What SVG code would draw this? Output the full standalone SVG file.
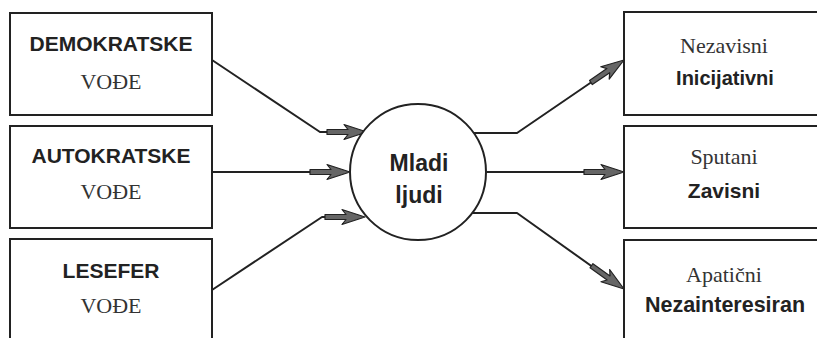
<svg xmlns="http://www.w3.org/2000/svg" xmlns:xlink="http://www.w3.org/1999/xlink" width="817" height="338" viewBox="0 0 817 338">
  <style>
    .box { fill: #fff; stroke: #222; stroke-width: 2; }
    .line { fill: none; stroke: #222; stroke-width: 2; stroke-linejoin: round; }
    .bold { font-family: "Liberation Sans", Arial, sans-serif; font-weight: bold; fill: #222; text-anchor: middle; }
    .serif { font-family: "Liberation Serif", "Times New Roman", serif; fill: #333; text-anchor: middle; }
    .arw { fill: #666; stroke: #222; stroke-width: 1.2; stroke-linejoin: round; }
  </style>
  <defs>
    <!-- arrowhead pointing right, tip at the origin -->
    <path id="arrow" class="arw" d="M0,0 L-23,-7.5 L-19,-2.5 L-40,-2.5 L-40,2.5 L-19,2.5 L-23,7.5 Z"/>
  </defs>
  <rect width="817" height="338" fill="#fff"/>

  <!-- connectors -->
  <g id="connectors">
    <polyline class="line" points="212,60 320,132 360,132"/>
    <polyline class="line" points="212,172 345,172"/>
    <polyline class="line" points="212,290 322,217 360,217"/>
    <polyline class="line" points="470,133 517,133 618,64"/>
    <polyline class="line" points="487,172 618,172"/>
    <polyline class="line" points="470,213 517,213 618,285"/>
    <use xlink:href="#arrow" transform="translate(367,132)"/>
    <use xlink:href="#arrow" transform="translate(350,172)"/>
    <use xlink:href="#arrow" transform="translate(365,217)"/>
    <use xlink:href="#arrow" transform="translate(624,60) rotate(-34.2)"/>
    <use xlink:href="#arrow" transform="translate(624,172)"/>
    <use xlink:href="#arrow" transform="translate(624,289) rotate(35.6)"/>
  </g>

  <!-- leader types -->
  <g id="demokratske">
    <rect class="box" x="10" y="13" width="202" height="102"/>
    <text class="bold" x="111" y="51" font-size="21">DEMOKRATSKE</text>
    <text class="serif" x="111" y="89" font-size="22">VOĐE</text>
  </g>
  <g id="autokratske">
    <rect class="box" x="10" y="126" width="202" height="102"/>
    <text class="bold" x="111" y="163" font-size="21">AUTOKRATSKE</text>
    <text class="serif" x="111" y="199" font-size="22">VOĐE</text>
  </g>
  <g id="lesefer">
    <rect class="box" x="10" y="239" width="202" height="110"/>
    <text class="bold" x="111" y="278" font-size="21">LESEFER</text>
    <text class="serif" x="111" y="313" font-size="22">VOĐE</text>
  </g>

  <!-- young people -->
  <g id="mladi">
    <circle class="box" cx="418" cy="172" r="68"/>
    <text class="bold" x="419" y="171" font-size="23">Mladi</text>
    <text class="bold" x="419" y="203" font-size="23">ljudi</text>
  </g>

  <!-- outcomes -->
  <g id="nezavisni">
    <rect class="box" x="624" y="12" width="210" height="103"/>
    <text class="serif" x="724" y="53" font-size="22">Nezavisni</text>
    <text class="bold" x="725" y="85" font-size="20">Inicijativni</text>
  </g>
  <g id="sputani">
    <rect class="box" x="624" y="126" width="210" height="102"/>
    <text class="serif" x="724" y="164" font-size="22">Sputani</text>
    <text class="bold" x="724" y="198" font-size="21">Zavisni</text>
  </g>
  <g id="apaticni">
    <rect class="box" x="624" y="240" width="210" height="110"/>
    <text class="serif" x="724" y="282" font-size="22">Apatični</text>
    <text class="bold" x="725" y="312" font-size="21.5">Nezainteresiran</text>
  </g>
</svg>
